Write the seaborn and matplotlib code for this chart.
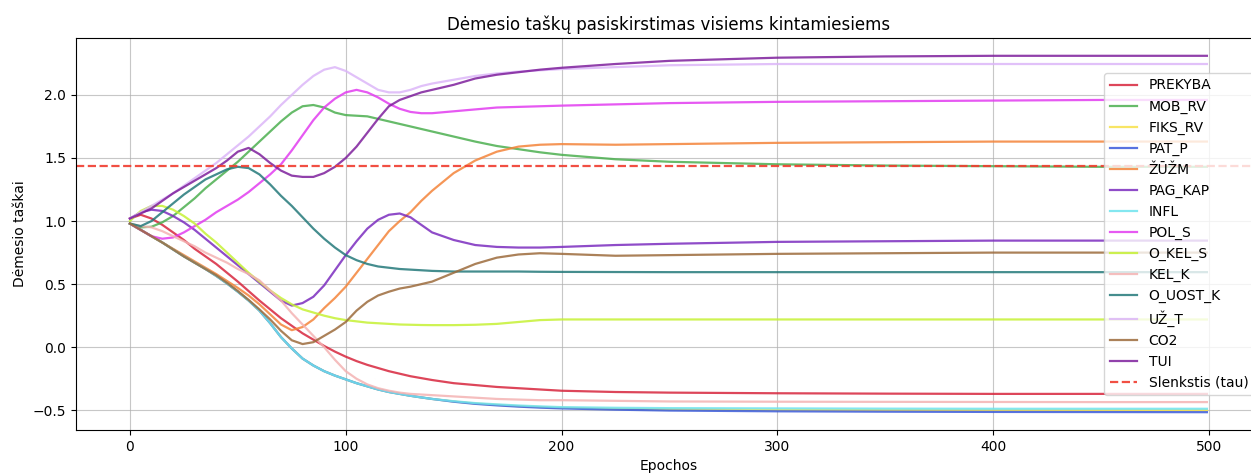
import numpy as np
import pandas as pd
import matplotlib
matplotlib.use("Agg")
import matplotlib.pyplot as plt
import seaborn as sns

# Training epochs at which the attention scores were logged
epochs = [0, 5, 10, 15, 20, 25, 30, 35, 40, 45, 50, 55, 60, 65, 70, 75, 80, 85, 90, 95,
          100, 105, 110, 115, 120, 125, 130, 135, 140, 150, 160, 170, 180, 190, 200,
          225, 250, 300, 350, 400, 450, 499]

prekyba = [1.02, 1.05, 1.02, 0.97, 0.91, 0.85, 0.78, 0.72, 0.66, 0.59, 0.52, 0.445, 0.37, 0.30, 0.23, 0.17,
           0.11, 0.06, 0.01, -0.035, -0.075, -0.11, -0.14, -0.165, -0.19, -0.21, -0.23, -0.245, -0.26,
           -0.285, -0.30, -0.315, -0.325, -0.335, -0.345, -0.355, -0.36, -0.365, -0.368, -0.37, -0.37, -0.37]
mob_rv = [0.98, 0.95, 0.955, 0.99, 1.04, 1.11, 1.18, 1.26, 1.33, 1.40, 1.47, 1.55, 1.63, 1.71, 1.79, 1.86,
          1.91, 1.92, 1.90, 1.86, 1.84, 1.835, 1.83, 1.81, 1.79, 1.77, 1.75, 1.73, 1.71,
          1.67, 1.63, 1.595, 1.57, 1.545, 1.525, 1.49, 1.47, 1.45, 1.44, 1.435, 1.43, 1.43]
fiks_rv = [0.98, 0.93, 0.88, 0.83, 0.775, 0.72, 0.67, 0.62, 0.565, 0.505, 0.44, 0.37, 0.29, 0.19, 0.08, -0.01,
           -0.09, -0.145, -0.19, -0.225, -0.255, -0.285, -0.31, -0.335, -0.355, -0.37, -0.385, -0.398, -0.41,
           -0.43, -0.446, -0.457, -0.467, -0.474, -0.48, -0.488, -0.492, -0.497, -0.499, -0.50, -0.50, -0.50]
pat_p = [0.98, 0.93, 0.88, 0.83, 0.775, 0.72, 0.67, 0.62, 0.565, 0.505, 0.44, 0.37, 0.29, 0.19, 0.08, -0.01,
         -0.09, -0.145, -0.19, -0.225, -0.255, -0.285, -0.31, -0.335, -0.355, -0.37, -0.385, -0.398, -0.41,
         -0.432, -0.449, -0.461, -0.471, -0.479, -0.485, -0.495, -0.502, -0.508, -0.511, -0.513, -0.514, -0.515]
zuzm = [0.98, 0.93, 0.88, 0.83, 0.78, 0.73, 0.68, 0.63, 0.58, 0.525, 0.47, 0.41, 0.34, 0.26, 0.18, 0.135,
        0.16, 0.22, 0.31, 0.39, 0.48, 0.59, 0.70, 0.81, 0.92, 1.00, 1.07, 1.16, 1.24,
        1.38, 1.48, 1.55, 1.59, 1.605, 1.61, 1.605, 1.61, 1.62, 1.625, 1.63, 1.63, 1.63]
pag_kap = [1.02, 1.07, 1.09, 1.08, 1.04, 0.99, 0.93, 0.86, 0.79, 0.72, 0.65, 0.58, 0.51, 0.44, 0.37, 0.33,
           0.35, 0.40, 0.49, 0.61, 0.73, 0.84, 0.94, 1.01, 1.05, 1.06, 1.03, 0.97, 0.91,
           0.85, 0.81, 0.795, 0.79, 0.79, 0.795, 0.81, 0.82, 0.835, 0.84, 0.845, 0.845, 0.845]
infl = [0.98, 0.93, 0.88, 0.83, 0.775, 0.72, 0.67, 0.62, 0.565, 0.505, 0.44, 0.37, 0.29, 0.19, 0.08, -0.01,
        -0.09, -0.145, -0.19, -0.225, -0.255, -0.285, -0.31, -0.335, -0.355, -0.37, -0.385, -0.398, -0.41,
        -0.428, -0.443, -0.453, -0.462, -0.469, -0.475, -0.48, -0.483, -0.485, -0.487, -0.488, -0.488, -0.488]
pol_s = [0.98, 0.93, 0.88, 0.86, 0.87, 0.91, 0.96, 1.01, 1.07, 1.12, 1.17, 1.23, 1.30, 1.37, 1.45, 1.56,
         1.68, 1.80, 1.90, 1.97, 2.02, 2.04, 2.02, 1.98, 1.93, 1.89, 1.865, 1.855, 1.855,
         1.87, 1.885, 1.90, 1.905, 1.91, 1.915, 1.925, 1.935, 1.945, 1.95, 1.955, 1.96, 1.96]
o_kel_s = [1.00, 1.08, 1.12, 1.12, 1.09, 1.04, 0.98, 0.90, 0.83, 0.75, 0.67, 0.59, 0.52, 0.45, 0.39, 0.34,
           0.30, 0.275, 0.25, 0.23, 0.215, 0.205, 0.195, 0.19, 0.185, 0.18, 0.178, 0.176, 0.175,
           0.175, 0.178, 0.185, 0.20, 0.215, 0.22, 0.22, 0.22, 0.22, 0.22, 0.22, 0.22, 0.22]
kel_k = [0.98, 0.96, 0.95, 0.92, 0.88, 0.84, 0.80, 0.75, 0.71, 0.67, 0.62, 0.58, 0.53, 0.45, 0.37, 0.27,
         0.18, 0.09, 0.00, -0.10, -0.19, -0.25, -0.295, -0.325, -0.345, -0.36, -0.37, -0.375, -0.38,
         -0.39, -0.40, -0.41, -0.415, -0.42, -0.42, -0.425, -0.43, -0.432, -0.433, -0.434, -0.435, -0.435]
o_uost_k = [0.98, 0.96, 1.00, 1.07, 1.14, 1.21, 1.27, 1.33, 1.37, 1.41, 1.43, 1.42, 1.37, 1.29, 1.20, 1.12,
            1.03, 0.94, 0.86, 0.79, 0.73, 0.69, 0.66, 0.64, 0.63, 0.62, 0.615, 0.61, 0.605,
            0.60, 0.60, 0.60, 0.60, 0.598, 0.597, 0.596, 0.595, 0.595, 0.595, 0.595, 0.595, 0.595]
uz_t = [1.02, 1.07, 1.12, 1.17, 1.22, 1.28, 1.34, 1.40, 1.46, 1.53, 1.60, 1.67, 1.75, 1.83, 1.92, 2.00,
        2.08, 2.15, 2.20, 2.22, 2.19, 2.14, 2.09, 2.04, 2.02, 2.02, 2.04, 2.07, 2.09,
        2.12, 2.15, 2.17, 2.185, 2.195, 2.205, 2.22, 2.235, 2.245, 2.245, 2.245, 2.245, 2.245]
co2 = [0.98, 0.93, 0.88, 0.83, 0.775, 0.72, 0.67, 0.62, 0.57, 0.51, 0.445, 0.375, 0.30, 0.22, 0.13, 0.055,
       0.025, 0.04, 0.09, 0.14, 0.20, 0.29, 0.36, 0.41, 0.44, 0.465, 0.48, 0.50, 0.52,
       0.59, 0.66, 0.71, 0.735, 0.745, 0.74, 0.725, 0.73, 0.74, 0.745, 0.75, 0.75, 0.75]
tui = [1.02, 1.06, 1.10, 1.16, 1.22, 1.27, 1.32, 1.37, 1.42, 1.48, 1.55, 1.58, 1.53, 1.46, 1.40, 1.36,
       1.35, 1.35, 1.38, 1.43, 1.50, 1.59, 1.70, 1.81, 1.91, 1.96, 1.99, 2.02, 2.04,
       2.08, 2.13, 2.16, 2.18, 2.20, 2.215, 2.245, 2.27, 2.295, 2.305, 2.31, 2.31, 2.31]

tau = 1.435

names = ["PREKYBA", "MOB_RV", "FIKS_RV", "PAT_P", "ŽŪŽM", "PAG_KAP", "INFL",
         "POL_S", "O_KEL_S", "KEL_K", "O_UOST_K", "UŽ_T", "CO2", "TUI"]
series = [prekyba, mob_rv, fiks_rv, pat_p, zuzm, pag_kap, infl,
          pol_s, o_kel_s, kel_k, o_uost_k, uz_t, co2, tui]
colors = ["#d7263d", "#4caf50", "#f7e14a", "#3b5bdb", "#f4843a", "#7b2cbf", "#6fe3ee",
          "#e23cf0", "#c6f135", "#f4b3b3", "#24797a", "#dcb6f8", "#9c6b3c", "#7e1f9c"]

df = pd.DataFrame({"Epocha": np.tile(epochs, len(names)),
                   "Taškai": np.concatenate(series),
                   "Kintamasis": np.repeat(names, len(epochs))})

fig = plt.figure(figsize=(12.51, 4.73), dpi=100)
ax = fig.add_axes([0.0608, 0.0909, 0.947, 0.8288])

for name, col in zip(names, colors):
    sub = df[df["Kintamasis"] == name]
    sns.lineplot(data=sub, x="Epocha", y="Taškai", color=col, label=name,
                 linewidth=1.6, alpha=0.85, ax=ax)

ax.axhline(tau, color="#f03c2e", linestyle="--", linewidth=1.6, alpha=0.9,
           label="Slenkstis (tau)")

ax.grid(True, color="#b0b0b0", linewidth=0.8, alpha=0.7)
ax.set_title("Dėmesio taškų pasiskirstimas visiems kintamiesiems", fontsize=12)
ax.set_xlabel("Epochos", fontsize=10)
ax.set_ylabel("Dėmesio taškai", fontsize=10)
ax.legend(loc="center right", fontsize=10)

fig.savefig("out.png", dpi=100)
